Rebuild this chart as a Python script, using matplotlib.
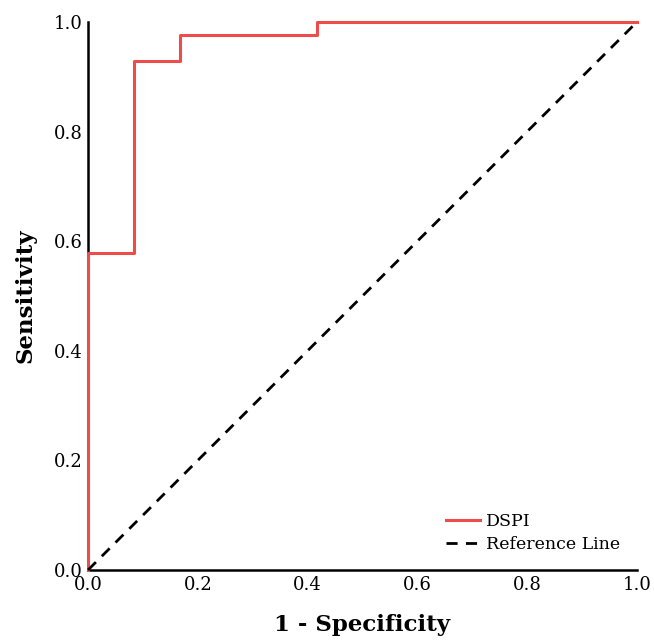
import matplotlib.pyplot as plt

# ROC curve points (1 - specificity, sensitivity)
fpr = [0.0, 0.0, 0.083, 0.083, 0.167, 0.167, 0.417, 0.417, 1.0]
tpr = [0.0, 0.578, 0.578, 0.929, 0.929, 0.977, 0.977, 1.0, 1.0]
ref_x = [0.0, 1.0]
ref_y = [0.0, 1.0]
ticks = [0.0, 0.2, 0.4, 0.6, 0.8, 1.0]

plt.rcParams["font.family"] = "DejaVu Serif"

fig = plt.figure(figsize=(6.54, 6.41), dpi=100)
ax = fig.add_axes([0.1346, 0.1108, 0.8394, 0.855])

ax.plot(fpr, tpr, color="#ee4b4b", linewidth=2.2, label="DSPI",
        clip_on=False, zorder=3)
ax.plot(ref_x, ref_y, color="black", linestyle=(0, (4, 3)), linewidth=2,
        label="Reference Line", clip_on=False, zorder=3)

ax.set_xlim(0, 1)
ax.set_ylim(0, 1)
ax.set_xticks(ticks)
ax.set_yticks(ticks)
ax.set_xticklabels([f"{t:.1f}" for t in ticks])
ax.set_yticklabels([f"{t:.1f}" for t in ticks])
ax.tick_params(length=0, labelsize=13, pad=4)
for s in ["top", "right"]:
    ax.spines[s].set_visible(False)
for s in ["left", "bottom"]:
    ax.spines[s].set_linewidth(1.8)

ax.set_xlabel("1 - Specificity", fontsize=16.5, fontweight="bold", labelpad=15)
ax.set_ylabel("Sensitivity", fontsize=16.5, fontweight="bold", labelpad=12)
ax.legend(loc="lower right", frameon=False, fontsize=12.5, handlelength=2,
          handletextpad=0.3, borderaxespad=0.6, labelspacing=0.3)

fig.savefig("out.png", dpi=100)
